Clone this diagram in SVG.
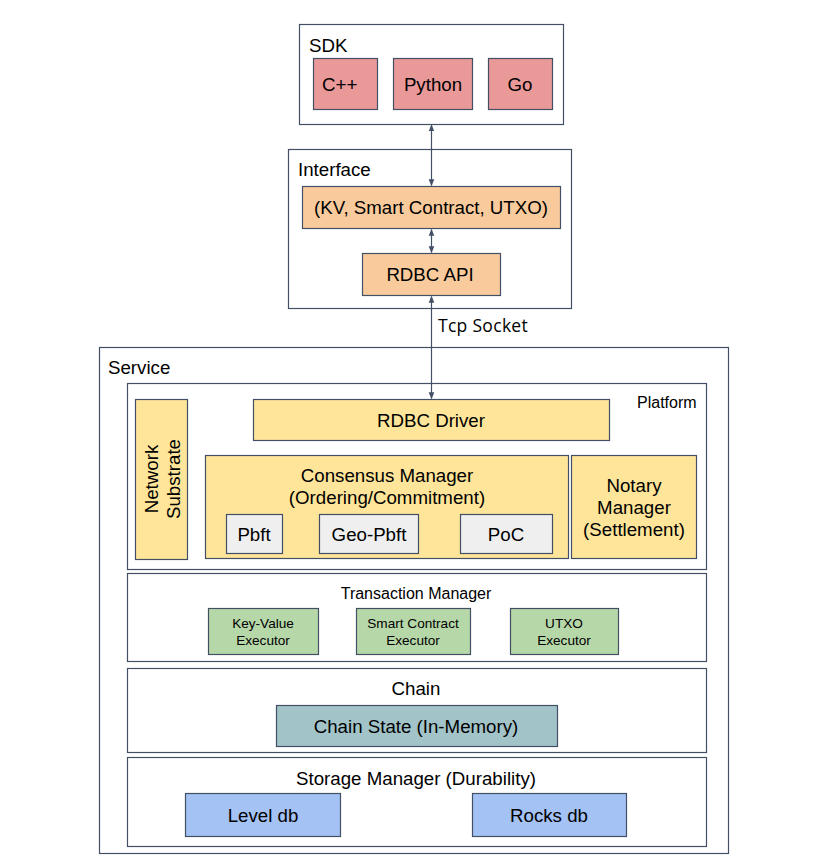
<svg xmlns="http://www.w3.org/2000/svg" width="829" height="862" viewBox="0 0 829 862">
<defs>
<marker id="ah" viewBox="0 0 10 10" refX="9" refY="5" markerWidth="7" markerHeight="7" orient="auto-start-reverse" markerUnits="userSpaceOnUse">
<path d="M0,1 L10,5 L0,9 z" fill="#434f65"/>
</marker>
<style>
rect{stroke:#434f65;stroke-width:1.2}
.c{fill:#ffffff}
.red{fill:#ea9999}
.org{fill:#f9cb9c}
.yel{fill:#ffe599}
.gry{fill:#efefef}
.grn{fill:#b6d7a8}
.tea{fill:#a2c4c9}
.blu{fill:#a4c2f4}
text{font-family:"Liberation Sans",Arial,sans-serif;fill:#000;font-size:18.7px}
.m{text-anchor:middle}
.s{font-size:16px}
.xs{font-size:13.6px}
.tcp{font-family:"Open Sans",Lato,sans-serif;font-size:17.5px;letter-spacing:0.3px}
.ln{stroke:#434f65;stroke-width:1.2;fill:none}
</style>
</defs>
<rect width="829" height="862" fill="#ffffff" style="stroke:none"/>

<g id="sdk">
<rect class="c" x="299.5" y="24.5" width="264" height="100"/>
<text x="309" y="52">SDK</text>
</g>
<g id="cpp"><rect class="red" x="313.5" y="58.5" width="64" height="51"/><text x="322" y="91">C++</text></g>
<g id="python"><rect class="red" x="393.5" y="58.5" width="79" height="51"/><text class="m" x="433" y="91">Python</text></g>
<g id="go"><rect class="red" x="488.5" y="58.5" width="64" height="51"/><text class="m" x="520" y="91">Go</text></g>

<g id="interface">
<rect class="c" x="288.5" y="149.5" width="283" height="159"/>
<text x="298" y="176">Interface</text>
</g>
<g id="kv"><rect class="org" x="302.5" y="186.5" width="258" height="42"/><text class="m" x="431" y="214">(KV, Smart Contract, UTXO)</text></g>
<g id="rdbcapi"><rect class="org" x="362.5" y="253.5" width="138" height="42"/><text class="m" x="430" y="281">RDBC API</text></g>

<g id="service">
<rect class="c" x="99.5" y="347.5" width="629" height="506"/>
<text x="108" y="374">Service</text>
</g>
<g id="platform">
<rect class="c" x="127.5" y="383.5" width="579" height="186"/>
<text class="s" x="637" y="408">Platform</text>
</g>
<g id="network"><rect class="yel" x="135.5" y="399.5" width="52" height="160"/>
<text class="m" transform="translate(158,479) rotate(-90)">Network</text>
<text class="m" transform="translate(180,479) rotate(-90)">Substrate</text></g>
<g id="rdbcdriver"><rect class="yel" x="253.5" y="399.5" width="356" height="41"/><text class="m" x="431" y="427">RDBC Driver</text></g>
<g id="consensus"><rect class="yel" x="205.5" y="455.5" width="363" height="103"/>
<text class="m" x="387" y="482">Consensus Manager</text>
<text class="m" x="387" y="504">(Ordering/Commitment)</text></g>
<g id="pbft"><rect class="gry" x="226.5" y="514.5" width="56" height="39"/><text class="m" x="254" y="541">Pbft</text></g>
<g id="geopbft"><rect class="gry" x="319.5" y="514.5" width="99" height="39"/><text class="m" x="369" y="541">Geo-Pbft</text></g>
<g id="poc"><rect class="gry" x="460.5" y="514.5" width="92" height="39"/><text class="m" x="506" y="541">PoC</text></g>
<g id="notary"><rect class="yel" x="571.5" y="455.5" width="125" height="103"/>
<text class="m" x="634" y="492">Notary</text>
<text class="m" x="634" y="514">Manager</text>
<text class="m" x="634" y="536">(Settlement)</text></g>

<g id="txn">
<rect class="c" x="127.5" y="573.5" width="579" height="88"/>
<text class="m s" x="416" y="599">Transaction Manager</text>
</g>
<g id="kvexec"><rect class="grn" x="208.5" y="608.5" width="110" height="46"/>
<text class="m xs" x="263" y="628">Key-Value</text><text class="m xs" x="263" y="645">Executor</text></g>
<g id="scexec"><rect class="grn" x="356.5" y="608.5" width="114" height="46"/>
<text class="m xs" x="413" y="628">Smart Contract</text><text class="m xs" x="413" y="645">Executor</text></g>
<g id="utxoexec"><rect class="grn" x="510.5" y="608.5" width="108" height="46"/>
<text class="m xs" x="564" y="628">UTXO</text><text class="m xs" x="564" y="645">Executor</text></g>

<g id="chain">
<rect class="c" x="127.5" y="668.5" width="579" height="84"/>
<text class="m" x="416" y="695">Chain</text>
</g>
<g id="chainstate"><rect class="tea" x="276.5" y="705.5" width="281" height="41"/><text class="m" x="416" y="733">Chain State (In-Memory)</text></g>

<g id="storage">
<rect class="c" x="127.5" y="757.5" width="579" height="89"/>
<text class="m" x="416" y="785">Storage Manager (Durability)</text>
</g>
<g id="leveldb"><rect class="blu" x="185.5" y="793.5" width="155" height="43"/><text class="m" x="263" y="822">Level db</text></g>
<g id="rocksdb"><rect class="blu" x="472.5" y="793.5" width="154" height="43"/><text class="m" x="549" y="822">Rocks db</text></g>

<g id="connectors">
<line class="ln" x1="431.5" y1="125" x2="431.5" y2="185.5" marker-start="url(#ah)" marker-end="url(#ah)"/>
<line class="ln" x1="431.5" y1="229.5" x2="431.5" y2="252.5" marker-start="url(#ah)" marker-end="url(#ah)"/>
<line class="ln" x1="431.5" y1="296.5" x2="431.5" y2="398.5" marker-start="url(#ah)" marker-end="url(#ah)"/>
<text class="tcp" x="438" y="332">Tcp Socket</text>
</g>
</svg>
